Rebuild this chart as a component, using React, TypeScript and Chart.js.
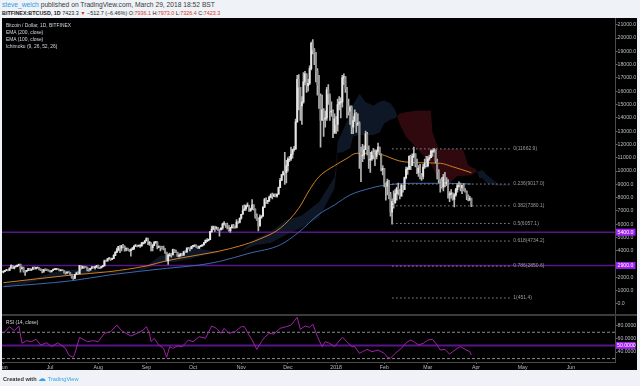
import { useEffect, useRef } from 'react';
import { Chart, registerables } from 'chart.js';
Chart.register(...registerables);

const FONT = '"Liberation Sans", Arial, sans-serif';

// ---- daily candles, 2017-06-01 .. 2018-03-29 (BITFINEX BTCUSD, 1D) ----
const startDate = '2017-06-01';
const firstOpen = 2400;
const closes = [
  2450,2520,2550,2530,2700,2880,2700,2800,2810,2910,2990,2650,2720,2470,2460,2500,2660,2540,2610,2750,2680,2710,2720,2600,2570,2460,2590,2580,2550,2490,
  2430,2520,2580,2600,2620,2610,2500,2560,2520,2360,2330,2400,2370,2210,1960,1930,2230,2320,2280,2880,2700,2830,2780,2750,2580,2560,2690,2800,2730,2770,2880,
  2730,2710,2810,2870,3250,3230,3400,3440,3360,3430,3660,3880,4070,4330,4190,4380,4290,4130,4180,4070,4010,4090,4150,4350,4370,4350,4380,4390,4600,4600,4750,
  4920,4580,4600,4230,4390,4620,4640,4330,4330,4230,4200,4170,3880,3240,3700,3700,3690,4090,3910,3880,3600,3610,3790,3670,3930,3890,4200,4190,4160,4340,
  4400,4400,4310,4220,4330,4370,4440,4610,4780,4780,4830,5440,5640,5820,5710,5760,5600,5580,5710,6000,6010,5980,5900,5520,5740,5890,5770,5750,6150,6130,6450,
  6740,7030,7160,7380,7400,6990,7140,7460,7140,6590,6340,5880,6530,6600,7280,7850,7700,7790,8040,8200,8100,8230,8100,8250,8750,9300,9730,9940,9880,10400,
  10900,10900,11250,11600,11650,13700,16900,16300,14900,15200,16700,17300,16400,16600,17700,19600,19100,18900,17500,16500,15600,13800,14600,13900,14000,16100,15800,14500,14500,12900,13900,
  13500,15000,15200,15200,17000,17100,16200,14900,14500,14800,13300,13800,14300,13600,13600,11400,11200,11200,11600,12800,11600,10900,10900,11400,11200,11100,11500,11800,11300,10100,10200,
  9100,8850,9200,8200,6900,7700,7600,8300,8700,8600,8100,8900,8600,9500,10100,10200,11100,10400,11100,11300,10500,9900,10200,9700,9600,10300,10600,10400,
  10900,11000,11500,11500,11600,10750,9950,9350,9250,8800,9550,9150,9150,8200,8260,8280,7860,8200,8600,8900,8900,8720,8920,8550,8460,8140,7800,7936.1,7423.3,
];
const highs = [
  2480,2540,2590,2580,2720,2950,2900,2820,2850,2950,3000,3000,2800,2780,2500,2540,2690,2680,2640,2780,2800,2730,2760,2730,2640,2600,2600,2620,2590,2560,
  2510,2540,2620,2650,2640,2640,2620,2580,2570,2540,2420,2420,2430,2390,2230,2060,2240,2400,2420,2900,2880,2860,2830,2800,2770,2620,2700,2820,2810,2790,2900,
  2920,2760,2830,2900,3300,3290,3420,3480,3450,3460,3720,3950,4200,4340,4400,4420,4480,4380,4200,4200,4100,4140,4260,4380,4460,4380,4410,4400,4640,4660,4770,
  4980,4950,4700,4600,4480,4690,4690,4700,4380,4350,4330,4350,4170,3900,3780,3820,3800,4120,4100,4060,3900,3750,3800,3800,3960,3990,4230,4260,4210,4360,
  4410,4470,4440,4350,4360,4420,4470,4630,4820,4920,4890,5460,5850,5850,5850,5800,5770,5600,5720,6080,6200,6050,6080,5900,5770,5980,5990,5850,6350,6200,6470,
  6750,7400,7450,7440,7600,7420,7210,7850,7460,7150,6780,6480,6700,6650,7300,7950,7990,7800,8120,8280,8340,8290,8280,8290,8800,9450,9740,10000,11400,10800,
  11000,11100,11800,11650,11850,13900,17200,17250,16300,15600,17400,17500,17300,16900,17900,19700,19890,19200,18900,17700,17200,15800,15700,14700,14500,16300,16500,15600,15200,14600,14300,
  14100,15400,15600,15500,17200,17300,17100,16300,15400,14900,14900,14100,14600,14400,14300,13700,11800,12000,11900,13000,12900,11900,11400,11500,11700,11600,11600,12100,11800,11300,10400,
  10200,9100,9400,9300,8400,7900,8500,8600,8800,9100,8600,9000,8950,9550,10300,10300,11150,11200,11300,11800,11300,10900,10400,10500,9800,10500,10900,11100,
  11100,11200,11600,11600,11700,11600,10900,10100,9400,9500,9750,9900,9500,9350,8450,8600,8350,8300,8700,9050,9180,9100,8950,9050,8680,8500,8200,8100,7973,
];
const lows = [
  2340,2440,2500,2490,2520,2700,2650,2640,2760,2800,2880,2400,2620,2400,2150,2410,2500,2500,2530,2600,2620,2620,2700,2560,2500,2330,2380,2500,2520,2470,
  2400,2400,2510,2580,2560,2590,2480,2480,2500,2320,2250,2290,2330,2180,1950,1840,1920,2220,2250,2270,2620,2680,2700,2720,2480,2460,2540,2680,2700,2620,2750,
  2680,2660,2710,2790,2860,3200,3220,3360,3270,3340,3410,3640,3870,3990,3850,4000,4240,3970,3990,4050,3960,3600,4060,4110,4320,4290,4320,4260,4330,4530,4580,
  4740,4470,4410,4000,4000,4380,4550,4150,4250,4000,4130,4070,3800,3230,2970,3600,3530,3690,3860,3850,3580,3520,3590,3650,3660,3870,3890,4140,4000,4150,
  4280,4370,4260,4180,4160,4320,4340,4440,4570,4730,4740,4840,5390,5590,5450,5600,5540,5100,5560,5610,5920,5750,5640,5470,5390,5710,5710,5700,5720,6050,6100,
  6380,6800,7050,7040,7300,6960,6980,7100,7050,6450,6280,5500,5860,6430,6600,7250,7570,7540,7690,7990,7900,8070,8060,8030,8230,8740,9300,9680,9000,9100,
  9980,10700,10800,10970,11500,11650,13650,14600,13800,13500,15100,16500,15900,16000,16500,17600,18800,18000,16700,15700,14700,11800,13900,12600,13300,13800,15000,13800,14100,12500,12800,
  12800,13000,14600,14000,14800,16500,15900,14000,14200,13500,12800,12800,13700,12900,13400,10200,9200,10700,10900,11600,11200,10200,9900,10800,10900,10400,10900,11400,11200,10000,9700,
  8800,7800,8200,7900,6600,6000,7200,7600,7800,8200,7900,8100,8400,8600,9400,9750,10100,10100,10400,11000,10300,9800,9600,9400,9300,9400,10200,10300,
  10300,10800,11000,11100,11400,10600,9400,9100,8400,8700,8500,8800,8900,7950,7700,7950,7800,7300,8100,8400,8800,8500,8300,8500,8400,7850,7750,7800,7326.4,
];

// ---- EMA (100) and EMA (200), read at sample dates ----
const ema100Dates = ['2017-06-01','2017-07-15','2017-08-08','2017-09-01','2017-09-14','2017-10-05','2017-10-18','2017-10-31','2017-11-13','2017-11-26','2017-12-08','2017-12-15','2017-12-21','2017-12-31','2018-01-08','2018-01-14','2018-01-23','2018-01-29','2018-02-11','2018-02-24','2018-03-09','2018-03-17','2018-03-29'];
const ema100 = [1600,2180,2430,2860,3250,3700,3980,4360,4890,5690,7200,8600,9570,10400,10950,11330,11340,11280,10750,10620,10580,10320,9870];
const ema200Dates = ['2017-06-01','2017-07-15','2017-08-08','2017-09-14','2017-10-05','2017-10-18','2017-11-06','2017-11-26','2017-12-08','2017-12-21','2017-12-31','2018-01-10','2018-01-23','2018-01-29','2018-02-19','2018-03-13','2018-03-29'];
const ema200 = [1300,1750,2180,2680,2930,3200,3810,4440,5400,6750,7450,8200,8700,8870,9075,9075,9020];

// ---- Ichimoku (9, 26, 52, 26) cloud, leading spans ----
const cloudDates = ['2017-06-01','2017-06-15','2017-06-30','2017-07-10','2017-07-20','2017-07-31','2017-08-10','2017-08-20','2017-08-31','2017-09-10','2017-09-20','2017-09-30','2017-10-10','2017-10-20','2017-11-01','2017-11-10','2017-11-20','2017-11-30','2017-12-10','2017-12-21','2017-12-31','2018-01-01','2018-01-02','2018-01-05','2018-01-10','2018-01-12','2018-01-16','2018-01-20','2018-01-25','2018-01-29','2018-02-01','2018-02-05','2018-02-08','2018-02-11','2018-02-15','2018-02-22','2018-03-01','2018-03-03','2018-03-04','2018-03-08','2018-03-10','2018-03-20','2018-03-24','2018-03-27','2018-03-29','2018-04-01','2018-04-03','2018-04-05','2018-04-08','2018-04-15','2018-04-23'];
const spanA = [1440,1750,2250,2575,2590,2545,2330,2390,2765,3620,3795,4325,4035,3898,3978,4890,5410,6330,6650,7660,9550,10575,12225,12950,14300,15000,15800,15170,14920,15200,15300,15100,14600,13500,12575,11700,10775,10500,10300,9200,8575,9625,9650,9660,9675,9900,9980,10075,9700,9050,8980];
const spanB = [1250,1500,1975,2100,2225,2350,2450,2420,2570,3120,3160,3410,3720,3885,3975,4410,4585,5210,5750,6480,8675,9700,11350,11400,11700,12600,12700,12695,12700,12875,13570,13850,13960,14315,14445,14545,14545,14545,12945,11600,11650,11650,11550,10450,10300,10150,9500,9450,9050,8900,8900];

// ---- RSI (14, close): day offset from 2017-06-01, value ----
const rsiDays = [0,4,7,10,12,15,18,21,24,28,31,35,37,40,42,45,46,49,52,54,58,61,65,69,73,76,79,82,86,90,92,94,95,97,100,103,105,107,109,112,115,119,122,126,130,134,137,140,142,145,149,153,155,158,160,163,166,168,171,174,178,182,185,189,191,194,197,199,202,205,207,210,213,215,218,221,224,226,229,231,234,237,241,245,247,249,252,256,259,262,264,267,270,273,276,279,281,284,287,289,292,294,297,300,301];
const rsiValues = [68.4,78.5,72.4,79.5,53.2,57.2,55.7,59.3,50.6,54.1,48.1,54.1,50.6,45.6,35.4,31.9,38,62.3,58.2,55.7,57.2,55.7,68.4,70.9,81,72.4,68.4,64.3,68.4,73.4,78.5,68.4,55.7,60.8,50.6,45.6,31.9,48.1,45.6,49.1,48.1,58.2,55.7,63.3,60.8,79.5,76,68.4,76,68.4,70.9,78.5,78.5,65.8,58.2,44,55.7,62.3,68.4,67.4,76,78.5,81,92.7,74.5,79.5,77.5,82.5,63.3,48.1,55.7,53.1,48.1,54.1,62.3,55.7,48.1,48.1,38,40.5,44,40.5,43,38,31.9,30.4,38,45.6,54.1,58.2,55.7,50.6,53.1,58.2,59.3,50.6,43,44,36.9,40.5,45.6,48.1,44,40.5,35.4];
const rsiBands = [70, 30];
const rsiMid = 50;
const rsiTicks = [40, 60, 80];

// ---- Fibonacci retracement and horizontal lines ----
const fibStart = '2018-02-06';
const fibEnd = '2018-04-23';
const fibLevels = [0, 0.236, 0.382, 0.5, 0.618, 0.786, 1];
const fibPrices = [11662.9, 9017.0, 7380.1, 6057.1, 4734.2, 2850.6, 451.4];
const hLines = [5400, 2900];

// ---- axes ----
const priceTicks = [0,1000,2000,3000,4000,5000,6000,7000,8000,9000,10000,11000,12000,13000,14000,15000,16000,17000,18000,19000,20000,21000];
const monthTickDates = ['2017-06-01','2017-07-01','2017-08-01','2017-09-01','2017-10-01','2017-11-01','2017-12-01','2018-01-01','2018-02-01','2018-03-01','2018-04-01','2018-05-01','2018-06-01'];
const monthLabels = ['Jun','Jul','Aug','Sep','Oct','Nov','Dec','2018','Feb','Mar','Apr','May','Jun'];

const UP = '#e6e6e6';
const DOWN = '#8f8f8f';
const WICK = '#b5b5b5';
const NAVY = '#0d1726';
const RED = '#30090f';
const BLUE = '#3d68b0';
const ORANGE = '#cf7f1f';
const PURPLE = '#56158a';
const TAG = '#9d22f2';
const FIB = '#8c8c8c';
const AXIS = '#4a4a4a';
const LABEL = '#b8bbc2';

const toDay = (s: string) => {
  const p = s.split('-').map(Number);
  const q = startDate.split('-').map(Number);
  return Math.round((Date.UTC(p[0], p[1] - 1, p[2]) - Date.UTC(q[0], q[1] - 1, q[2])) / 86400000);
};

const X_MIN = -0.87;
const X_MAX = 393.7;

export default function App() {
  const mainRef = useRef<HTMLCanvasElement | null>(null);
  const rsiRef = useRef<HTMLCanvasElement | null>(null);

  useEffect(() => {
    const opens = closes.map((c, k) => (k === 0 ? firstOpen : closes[k - 1]));
    const wick = closes.map((_, k) => ({ x: k, y: [lows[k], highs[k]] }));
    const body = closes.map((c, k) => ({ x: k, y: [opens[k], c] }));
    const bodyCol = closes.map((c, k) => (c >= opens[k] ? UP : DOWN));
    const pts = (dates: string[], vals: number[]) => dates.map((d, k) => ({ x: toDay(d), y: vals[k] }));
    const fx0 = toDay(fibStart);
    const fx1 = toDay(fibEnd);
    const tickFont = { family: FONT, size: 5.2, lineHeight: 0.1 };

    const mainAnnot = {
      id: 'mainAnnot',
      afterDatasetsDraw(chart: any) {
        const { ctx, chartArea } = chart;
        const x = chart.scales.x;
        const y = chart.scales.y;
        ctx.save();
        ctx.font = `5px ${FONT}`;
        ctx.textBaseline = 'middle';
        ctx.textAlign = 'left';
        ctx.fillStyle = '#9a9a9a';
        const lx = x.getPixelForValue(fx1) + 3;
        fibLevels.forEach((lv, k) => {
          ctx.fillText(`${lv}(${fibPrices[k].toFixed(1)})`, lx, y.getPixelForValue(fibPrices[k]));
        });
        hLines.forEach((v) => {
          const py = y.getPixelForValue(v);
          ctx.fillStyle = TAG;
          ctx.fillRect(chartArea.right + 0.5, py - 3.5, 19.5, 7);
          ctx.fillStyle = '#ffffff';
          ctx.font = `5.2px ${FONT}`;
          ctx.fillText(v.toFixed(1), chartArea.right + 2, py + 0.3);
        });
        ctx.restore();
      },
    };

    const rsiAnnot = {
      id: 'rsiAnnot',
      afterDatasetsDraw(chart: any) {
        const { ctx, chartArea } = chart;
        const y = chart.scales.y;
        const py = y.getPixelForValue(rsiMid);
        ctx.save();
        ctx.fillStyle = TAG;
        ctx.fillRect(chartArea.right + 0.5, py - 3.5, 19.5, 7);
        ctx.fillStyle = '#ffffff';
        ctx.font = `5.2px ${FONT}`;
        ctx.textBaseline = 'middle';
        ctx.textAlign = 'left';
        ctx.fillText(rsiMid.toFixed(4), chartArea.right + 1.5, py + 0.3);
        ctx.restore();
      },
    };

    const main = new Chart(mainRef.current as HTMLCanvasElement, {
      type: 'bar',
      data: {
        datasets: [
          { type: 'line', data: pts(cloudDates, spanA), borderColor: 'rgba(0,0,0,0)', borderWidth: 0, pointRadius: 0, fill: { target: '+1', above: NAVY, below: RED }, order: 30 } as any,
          { type: 'line', data: pts(cloudDates, spanB), borderColor: 'rgba(0,0,0,0)', borderWidth: 0, pointRadius: 0, fill: false, order: 31 } as any,
          ...hLines.map((v) => ({ type: 'line', data: [{ x: X_MIN, y: v }, { x: X_MAX, y: v }], borderColor: PURPLE, borderWidth: 1.5, pointRadius: 0, order: 20 } as any)),
          { type: 'line', data: pts(ema200Dates, ema200), borderColor: BLUE, borderWidth: 1, pointRadius: 0, cubicInterpolationMode: 'monotone', order: 12 } as any,
          { type: 'line', data: pts(ema100Dates, ema100), borderColor: ORANGE, borderWidth: 1, pointRadius: 0, cubicInterpolationMode: 'monotone', order: 11 } as any,
          { type: 'bar', data: wick, backgroundColor: WICK, barThickness: 1, grouped: false, order: 6 } as any,
          { type: 'bar', data: body, backgroundColor: bodyCol, barThickness: 1.3, grouped: false, minBarLength: 1, order: 5 } as any,
          ...fibPrices.map((v) => ({ type: 'line', data: [{ x: fx0, y: v }, { x: fx1, y: v }], borderColor: FIB, borderWidth: 1, borderDash: [1.5, 2.5], pointRadius: 0, order: 1 } as any)),
        ],
      },
      options: {
        animation: false,
        responsive: false,
        devicePixelRatio: 1,
        events: [],
        layout: { padding: 0 },
        plugins: { legend: { display: false }, tooltip: { enabled: false } },
        scales: {
          x: { type: 'linear', min: X_MIN, max: X_MAX, display: false, offset: false },
          y: {
            position: 'right',
            min: -752,
            max: 21504,
            afterBuildTicks: (s: any) => { s.ticks = priceTicks.map((v) => ({ value: v })); },
            afterFit: (s: any) => { s.width = 21.5; s.paddingTop = 0; s.paddingBottom = 0; },
            ticks: { color: LABEL, font: tickFont, padding: 0, callback: (v: any) => Number(v).toFixed(1) },
            grid: { drawOnChartArea: false, tickLength: 2, color: '#666' },
            border: { display: true, color: AXIS, width: 1 },
          },
        },
      },
      plugins: [mainAnnot],
    } as any);

    const rsi = new Chart(rsiRef.current as HTMLCanvasElement, {
      type: 'line',
      data: {
        datasets: [
          { data: [{ x: X_MIN, y: rsiMid }, { x: X_MAX, y: rsiMid }], borderColor: PURPLE, borderWidth: 2, pointRadius: 0, order: 5 },
          ...rsiBands.map((v) => ({ data: [{ x: X_MIN, y: v }, { x: X_MAX, y: v }], borderColor: '#8a8a8a', borderWidth: 1, borderDash: [3, 2], pointRadius: 0, order: 4 })),
          { data: rsiDays.map((d, k) => ({ x: d, y: rsiValues[k] })), borderColor: '#a021a8', borderWidth: 1, pointRadius: 0, order: 1 },
        ],
      },
      options: {
        animation: false,
        responsive: false,
        devicePixelRatio: 1,
        events: [],
        layout: { padding: 0 },
        plugins: { legend: { display: false }, tooltip: { enabled: false } },
        scales: {
          x: {
            type: 'linear',
            min: X_MIN,
            max: X_MAX,
            offset: false,
            afterBuildTicks: (s: any) => { s.ticks = monthTickDates.map((d) => ({ value: toDay(d) })); },
            afterFit: (s: any) => { s.height = 8; s.paddingLeft = 0; s.paddingRight = 0; },
            ticks: { color: LABEL, font: { family: FONT, size: 5.2 }, padding: 0, maxRotation: 0, autoSkip: false, callback: (_v: any, i: number) => monthLabels[i] },
            grid: { drawOnChartArea: false, tickLength: 2, color: '#666' },
            border: { display: true, color: AXIS, width: 1 },
          },
          y: {
            position: 'right',
            min: 24.8,
            max: 94.75,
            afterBuildTicks: (s: any) => { s.ticks = rsiTicks.map((v) => ({ value: v })); },
            afterFit: (s: any) => { s.width = 21.5; s.paddingTop = 0; s.paddingBottom = 0; },
            ticks: { color: LABEL, font: tickFont, padding: 0, callback: (v: any) => Number(v).toFixed(4) },
            grid: { drawOnChartArea: false, tickLength: 2, color: '#666' },
            border: { display: true, color: AXIS, width: 1 },
          },
        },
      },
      plugins: [rsiAnnot],
    } as any);

    return () => {
      main.destroy();
      rsi.destroy();
    };
  }, []);

  const legend = ['Bitcoin / Dollar, 1D, BITFINEX', 'EMA (200, close)', 'EMA (100, close)', 'Ichimoku (9, 26, 52, 26)'];

  return (
    <div style={{ position: 'fixed', left: 0, top: 0, width: 640, height: 386, background: '#eff2f6', overflow: 'hidden', fontFamily: FONT }}>
      <div style={{ position: 'absolute', left: 2, top: 0.5, fontSize: 6.7, lineHeight: '8px', color: '#3a3a3a', whiteSpace: 'nowrap' }}>
        <span style={{ color: '#2c9be6' }}>steve_welch</span> published on TradingView.com, March 29, 2018 18:52 BST
      </div>
      <div style={{ position: 'absolute', left: 2, top: 8.7, fontSize: 5.4, lineHeight: '8px', color: '#222', whiteSpace: 'nowrap', fontWeight: 700 }}>
        BITFINEX:BTCUSD, 1D <span style={{ fontWeight: 400 }}>7423.3 </span>
        <span style={{ color: '#e0312b' }}>▼</span>
        <span style={{ fontWeight: 400 }}> −512.7 (−6.46%) O:</span><span style={{ color: '#e0312b', fontWeight: 400 }}>7936.1</span>
        <span style={{ fontWeight: 400 }}> H:</span><span style={{ color: '#e0312b', fontWeight: 400 }}>7973.0</span>
        <span style={{ fontWeight: 400 }}> L:</span><span style={{ color: '#e0312b', fontWeight: 400 }}>7326.4</span>
        <span style={{ fontWeight: 400 }}> C:</span><span style={{ color: '#e0312b', fontWeight: 400 }}>7423.3</span>
      </div>
      <div style={{ position: 'absolute', left: 2, top: 18, width: 635, height: 352, background: '#000' }} />
      <canvas ref={mainRef} width={635} height={296} style={{ position: 'absolute', left: 2, top: 18, width: 635, height: 296 }} />
      <div style={{ position: 'absolute', left: 2, top: 314, width: 635, height: 2, background: '#3c3c3c' }} />
      <canvas ref={rsiRef} width={635} height={54} style={{ position: 'absolute', left: 2, top: 316, width: 635, height: 54 }} />
      <div style={{ position: 'absolute', left: 6, top: 22.2, fontSize: 4.9, lineHeight: '7px', color: '#d6d8de', whiteSpace: 'nowrap' }}>
        {legend.map((t) => (<div key={t}>{t}</div>))}
      </div>
      <div style={{ position: 'absolute', left: 6, top: 318.5, fontSize: 4.9, lineHeight: '7px', color: '#d6d8de', whiteSpace: 'nowrap' }}>RSI (14, close)</div>
      <div style={{ position: 'absolute', left: 3, top: 375, fontSize: 5.6, lineHeight: '8px', color: '#333', whiteSpace: 'nowrap', fontWeight: 700 }}>
        Created with <span style={{ color: '#3aa0e8', fontSize: 8, fontWeight: 400 }}>☁</span> <span style={{ color: '#3aa0e8', fontWeight: 400 }}>TradingView</span>
      </div>
    </div>
  );
}
